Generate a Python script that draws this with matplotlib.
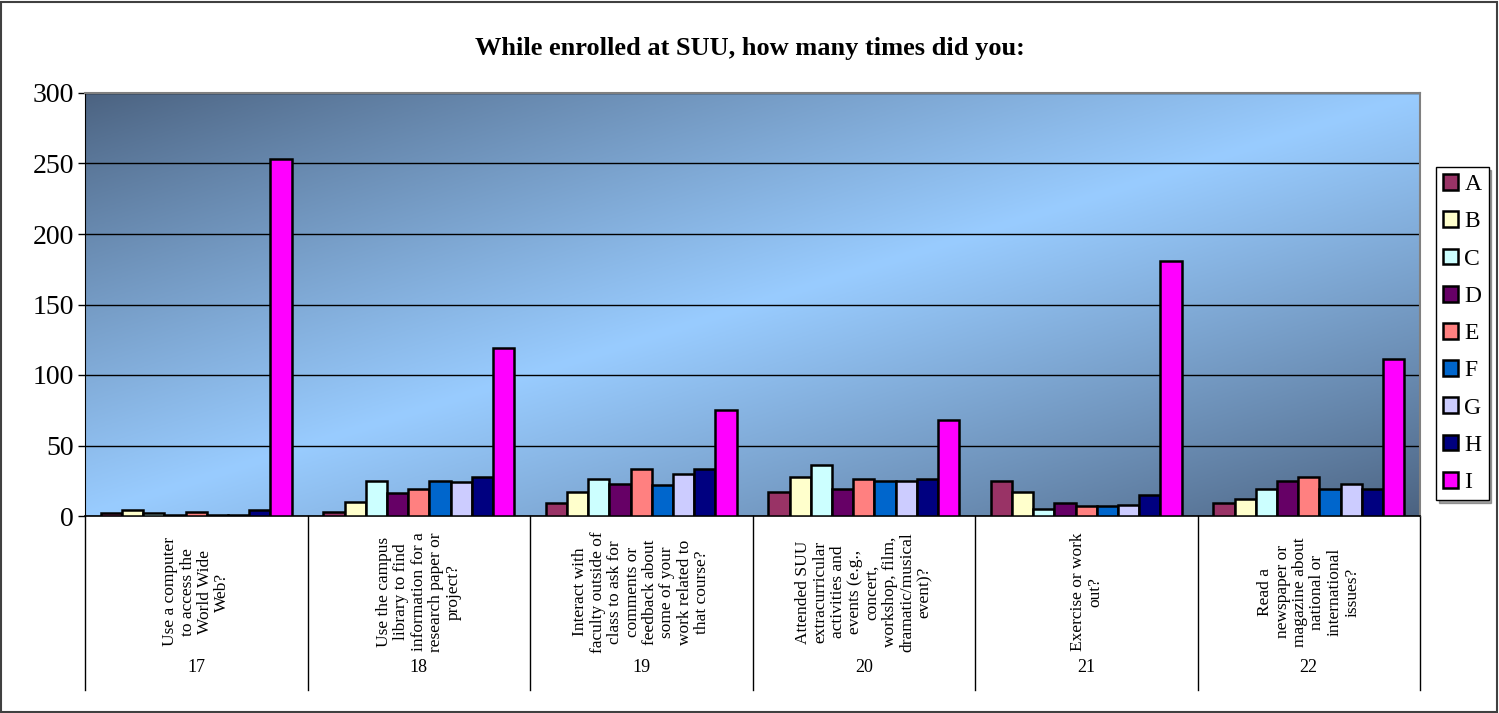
import numpy as np
import matplotlib.pyplot as plt
from matplotlib.colors import to_rgb
from matplotlib.transforms import blended_transform_factory
from matplotlib.patches import Rectangle

plt.rcParams["font.family"] = ["Liberation Serif", "DejaVu Serif"]

# Data.
question_numbers = ["17", "18", "19", "20", "21", "22"]
question_texts = [
    "Use a computer\nto access the\nWorld Wide\nWeb?",
    "Use the campus\nlibrary to find\ninformation for a\nresearch paper or\nproject?",
    "Interact with\nfaculty outside of\nclass to ask for\ncomments or\nfeedback about\nsome of your\nwork related to\nthat course?",
    "Attended SUU\nextracurricular\nactivities and\nevents (e.g.,\nconcert,\nworkshop, film,\ndramatic/musical\nevent)?",
    "Exercise or work\nout?",
    "Read a\nnewspaper or\nmagazine about\nnational or\ninternational\nissues?",
]
series_names = ["A", "B", "C", "D", "E", "F", "G", "H", "I"]
values_A = [2, 3, 9, 17, 25, 9]
values_B = [4, 10, 17, 28, 17, 12]
values_C = [2, 25, 26, 36, 5, 19]
values_D = [1, 16, 23, 19, 9, 25]
values_E = [3, 19, 33, 26, 7, 28]
values_F = [1, 25, 22, 25, 7, 19]
values_G = [1, 24, 30, 25, 8, 23]
values_H = [4, 28, 33, 26, 15, 19]
values_I = [253, 119, 75, 68, 181, 111]
series_values = [values_A, values_B, values_C, values_D, values_E,
                 values_F, values_G, values_H, values_I]
series_colors = ["#993366", "#FFFFCC", "#CCFFFF", "#660066", "#FF8080",
                 "#0066CC", "#CCCCFF", "#000080", "#FF00FF"]

W, H = 1499, 713
fig = plt.figure(figsize=(W / 100, H / 100), dpi=100)

# Plot area in pixel coordinates of the reference.
left, right, top, bottom = 85, 1420, 93, 516
ax = fig.add_axes([left / W, 1 - bottom / H, (right - left) / W, (bottom - top) / H])

n_groups = len(question_numbers)
n_series = len(series_names)
bar_w = 1.0 / (n_series + 1.5)
x = np.arange(n_groups)

# Diagonal background gradient: dark top-left and bottom-right, light band between.
dark = np.array(to_rgb("#4b6280"))
light = np.array(to_rgb("#99ccff"))
uu, ww = np.meshgrid(np.linspace(0, 1, 400), np.linspace(0, 1, 200))
s = (uu + ww) / 2
f = np.clip(1 - np.abs(2 * s - 1), 0, 1) ** 0.9
img = dark[None, None, :] + (light - dark)[None, None, :] * f[:, :, None]
ax.imshow(img, extent=[-0.5, n_groups - 0.5, 0, 300], origin="upper",
          aspect="auto", zorder=0)
ax.set_xlim(-0.5, n_groups - 0.5)
ax.set_ylim(0, 300)

# Bars
for i, (name, vals, col) in enumerate(zip(series_names, series_values, series_colors)):
    offs = (i - (n_series - 1) / 2) * bar_w
    ax.bar(x + offs, vals, width=bar_w, color=col, edgecolor="black",
           linewidth=1.8, label=name, zorder=3)

ax.set_yticks(np.arange(0, 301, 50))
ax.yaxis.grid(True, color="black", linewidth=1.0, zorder=1)
ax.set_axisbelow(True)
ax.tick_params(axis="y", direction="out", length=5, width=1, labelsize=20, pad=3)
ax.set_xticks([])

for side in ["top", "right"]:
    ax.spines[side].set_color("#808080")
    ax.spines[side].set_linewidth(1.5)
ax.spines["left"].set_color("black")
ax.spines["bottom"].set_color("black")
ax.spines["bottom"].set_linewidth(1.2)

# Category table below the plot
trans = blended_transform_factory(ax.transData, ax.transAxes)
table_depth = (690 - bottom) / (bottom - top)
for b in np.arange(-0.5, n_groups, 1.0):
    ax.plot([b, b], [0, -table_depth], transform=trans, color="black",
            linewidth=1.0, clip_on=False)
for xi, txt, num in zip(x, question_texts, question_numbers):
    ax.text(xi, -(592 - bottom) / (bottom - top), txt, transform=trans,
            rotation=90, ha="center", va="center", multialignment="center",
            fontsize=12.5, linespacing=1.12)
    ax.text(xi, -(668 - bottom) / (bottom - top), num, transform=trans,
            ha="center", va="center", fontsize=13)

# Title
fig.text(750 / W, 1 - 49 / H, "While enrolled at SUU, how many times did you:",
         ha="center", va="center", fontsize=19, fontweight="bold")

# Legend
leg = fig.legend(loc="upper left", bbox_to_anchor=(1436 / W, 1 - 167 / H),
                 frameon=True, fancybox=False, shadow=True, fontsize=17,
                 handlelength=0.65, handleheight=0.65, handletextpad=0.25,
                 labelspacing=0.68, borderpad=0.3, borderaxespad=0)
leg.get_frame().set_edgecolor("black")
leg.get_frame().set_linewidth(1.0)

# Outer border
fig.patches.append(Rectangle((1 / W, 1 / H), 1 - 3 / W, 1 - 3 / H,
                             transform=fig.transFigure, fill=False,
                             edgecolor="#404040", linewidth=1.5))

fig.savefig("out.png", dpi=100)
